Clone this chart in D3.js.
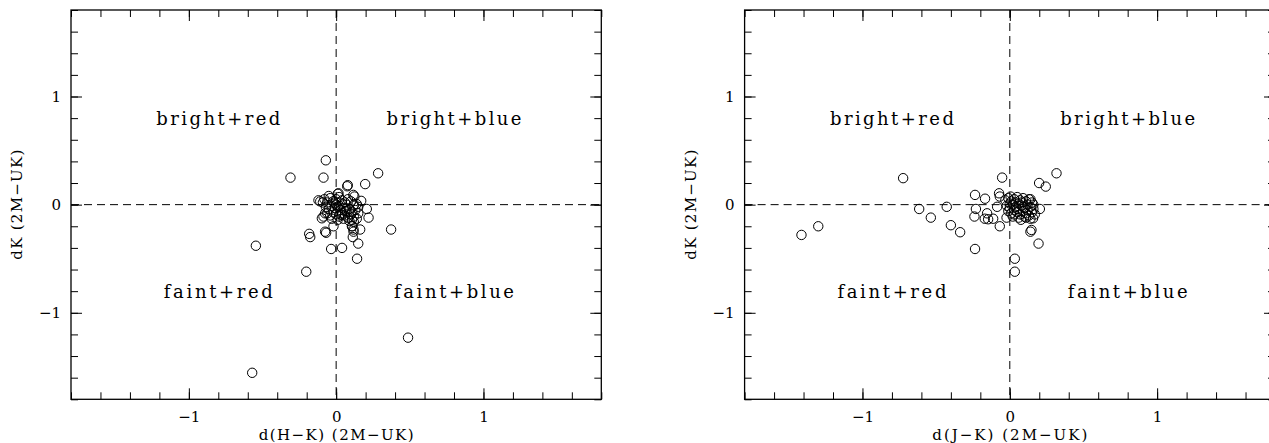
<!DOCTYPE html>
<html>
<head>
<meta charset="utf-8">
<script src="https://cdn.jsdelivr.net/npm/d3@7"></script>
<style>
html,body{margin:0;padding:0;background:#fff;overflow:hidden;}
svg{display:block;}
text{font-family:"DejaVu Serif","Liberation Serif",serif;fill:#000;}
</style>
</head>
<body>
<svg id="chart" width="1269" height="443"></svg>
<script>
// ---- Data ----
const hkX = [
  -0.07,-0.31,-0.086,0.285,0.197,0.075,0.117,0.016,-0.05,-0.12,-0.108,0.17,0.14,0.22,-0.086,
  0.373,0.163,0.11,0.118,-0.068,-0.018,-0.183,-0.176,0.113,0.15,-0.034,0.04,0.142,-0.545,-0.203,
  -0.57,0.488,0.079,0.011,0.124,0.208,-0.075,-0.097,0.039,0.107,-0.075,0.107,0.118,
  -0.08,-0.06,-0.04,-0.02,0.0,0.02,0.04,0.06,0.08,0.10,0.12,-0.07,-0.05,-0.03,-0.01,0.01,0.03,
  0.05,0.07,0.09,0.11,0.13,0.15,-0.06,-0.04,-0.02,0.0,0.02,0.04,0.06,0.08,0.10,0.12,0.14,
  -0.03,0.01,0.05,0.09,0.12,0.0,0.02,0.04,-0.01,0.06,0.03,0.07,-0.09,0.15
];
const hkY = [
  0.41,0.25,0.25,0.29,0.19,0.17,0.09,0.105,0.08,0.04,0.03,0.035,0.005,-0.12,-0.11,
  -0.23,-0.23,-0.2,-0.23,-0.26,-0.2,-0.27,-0.30,-0.30,-0.36,-0.41,-0.40,-0.50,-0.38,-0.62,
  -1.555,-1.23,0.18,0.10,0.075,-0.04,-0.08,-0.126,-0.095,-0.14,-0.25,-0.2,-0.25,
  0.05,0.02,0.06,0.03,0.05,0.07,0.04,0.02,0.05,0.03,0.0,-0.02,-0.04,-0.01,-0.03,-0.02,-0.05,
  -0.03,-0.06,-0.04,-0.07,-0.05,-0.08,-0.08,-0.10,-0.07,-0.09,-0.11,-0.08,-0.10,-0.12,-0.09,-0.11,-0.13,
  -0.13,-0.14,-0.13,-0.15,-0.16,0.0,-0.01,0.01,0.01,-0.06,-0.09,0.0,0.02,-0.02
];
const jkX = [
  -0.724,-1.414,-1.30,-0.615,-0.536,-0.428,-0.40,-0.337,-0.236,-0.236,-0.168,-0.23,-0.24,-0.154,
  -0.147,-0.17,-0.113,-0.068,-0.052,-0.073,-0.068,-0.086,-0.022,0.005,0.199,0.244,0.317,0.14,
  0.204,0.158,0.147,0.14,0.195,0.034,0.034,0.075,
  -0.03,-0.01,0.01,0.03,0.05,0.07,0.09,0.11,0.13,0.15,-0.02,0.0,0.02,0.04,0.06,0.08,0.10,0.12,
  0.14,0.16,-0.01,0.01,0.03,0.05,0.07,0.09,0.11,0.13,0.15,0.17,0.02,0.06,0.10,0.14,0.0,0.04,
  0.08,0.12,0.16,0.05,0.09,0.03,0.11
];
const jkY = [
  0.245,-0.28,-0.20,-0.04,-0.12,-0.02,-0.19,-0.255,-0.41,0.09,0.055,-0.04,-0.11,-0.08,
  -0.135,-0.13,-0.13,-0.20,0.25,0.105,0.075,-0.02,-0.12,0.075,0.20,0.167,0.29,0.05,
  -0.04,-0.126,-0.234,-0.25,-0.36,-0.50,-0.62,-0.14,
  0.04,0.06,0.03,0.05,0.07,0.04,0.06,0.03,0.05,0.02,-0.01,-0.03,0.0,-0.02,0.01,-0.01,-0.03,0.0,
  -0.02,-0.04,-0.06,-0.08,-0.05,-0.07,-0.09,-0.06,-0.08,-0.10,-0.07,-0.09,-0.11,-0.12,-0.11,-0.13,0.01,0.02,
  0.02,-0.05,0.0,-0.04,-0.02,-0.09,-0.12
];
const xTickLabels = [-1, 0, 1];
const yTickLabels = [-1, 0, 1];
const quadrantLabels = ["bright+red", "bright+blue", "faint+red", "faint+blue"];
const quadrantPos = [[-0.8, 0.8], [0.8, 0.8], [-0.8, -0.8], [0.8, -0.8]];
const quadrantWidths = [124, 135, 109, 120];
const yAxisTitle = "dK  (2M\u2212UK)";
const panelTitles = ["d(H\u2212K) (2M\u2212UK)", "d(J\u2212K) (2M\u2212UK)"];
const domain = [-1.8, 1.8];
const minorTicks = d3.range(-18, 19, 2).map(v => v / 10);

const svg = d3.select("#chart");
const fmt = d => d3.format("d")(d).replace("-", "\u2212");

function drawPanel(x0, x1, xs, ys, title) {
  const top = 10, bottom = 399.3;
  const x = d3.scaleLinear().domain(domain).range([x0, x1]);
  const y = d3.scaleLinear().domain(domain).range([bottom, top]);
  const g = svg.append("g");

  g.append("rect").attr("x", x0).attr("y", top).attr("width", x1 - x0).attr("height", bottom - top)
    .attr("fill", "none").attr("stroke", "#000").attr("stroke-width", 1.3);

  const style = sel => { sel.select(".domain").remove(); sel.selectAll("line").attr("stroke", "#000").attr("stroke-width", 1); };

  g.append("g").attr("transform", `translate(0,${bottom})`)
    .call(d3.axisBottom(x).tickValues(minorTicks).tickSize(-7).tickFormat("")).call(style);
  g.append("g").attr("transform", `translate(0,${top})`)
    .call(d3.axisTop(x).tickValues(minorTicks).tickSize(-7).tickFormat("")).call(style);
  g.append("g").attr("transform", `translate(${x0},0)`)
    .call(d3.axisLeft(y).tickValues(minorTicks).tickSize(-7).tickFormat("")).call(style);
  g.append("g").attr("transform", `translate(${x1},0)`)
    .call(d3.axisRight(y).tickValues(minorTicks).tickSize(-7).tickFormat("")).call(style);

  const bx = g.append("g").attr("transform", `translate(0,${bottom})`)
    .call(d3.axisBottom(x).tickValues(xTickLabels).tickSize(-11).tickPadding(12).tickFormat(fmt)).call(style);
  bx.selectAll("text").attr("font-size", 15).attr("font-family", "DejaVu Serif");
  g.append("g").attr("transform", `translate(0,${top})`)
    .call(d3.axisTop(x).tickValues(xTickLabels).tickSize(-11).tickFormat("")).call(style);
  const ly = g.append("g").attr("transform", `translate(${x0},0)`)
    .call(d3.axisLeft(y).tickValues(yTickLabels).tickSize(-11).tickPadding(10).tickFormat(fmt)).call(style);
  ly.selectAll("text").attr("font-size", 15).attr("font-family", "DejaVu Serif");
  g.append("g").attr("transform", `translate(${x1},0)`)
    .call(d3.axisRight(y).tickValues(yTickLabels).tickSize(-11).tickFormat("")).call(style);

  g.append("line").attr("x1", x(0)).attr("x2", x(0)).attr("y1", top).attr("y2", bottom)
    .attr("stroke", "#000").attr("stroke-width", 1).attr("stroke-dasharray", "8,5");
  g.append("line").attr("x1", x0).attr("x2", x1).attr("y1", y(0)).attr("y2", y(0))
    .attr("stroke", "#000").attr("stroke-width", 1).attr("stroke-dasharray", "8,5");

  quadrantLabels.forEach((t, i) => {
    const p = quadrantPos[i];
    g.append("text").attr("x", x(p[0])).attr("y", y(p[1]) + 7)
      .attr("text-anchor", "middle").attr("font-size", 18)
      .attr("textLength", quadrantWidths[i]).attr("lengthAdjust", "spacing")
      .text(t);
  });

  g.append("g").selectAll("circle").data(xs.map((v, i) => [v, ys[i]])).join("circle")
    .attr("cx", d => x(d[0])).attr("cy", d => y(d[1])).attr("r", 4.7)
    .attr("fill", "none").attr("stroke", "#000").attr("stroke-width", 1);

  g.append("text").attr("x", (x0 + x1) / 2).attr("y", 439.5)
    .attr("text-anchor", "middle").attr("font-size", 15)
    .attr("textLength", 155).attr("lengthAdjust", "spacing")
    .text(title);
  g.append("text").attr("transform", `translate(${x0 - 49},${(top + bottom) / 2}) rotate(-90)`)
    .attr("text-anchor", "middle").attr("font-size", 15)
    .attr("textLength", 110).attr("lengthAdjust", "spacing")
    .text(yAxisTitle);
}

drawPanel(71, 601.3, hkX, hkY, panelTitles[0]);
drawPanel(744.6, 1275, jkX, jkY, panelTitles[1]);
</script>
</body>
</html>
